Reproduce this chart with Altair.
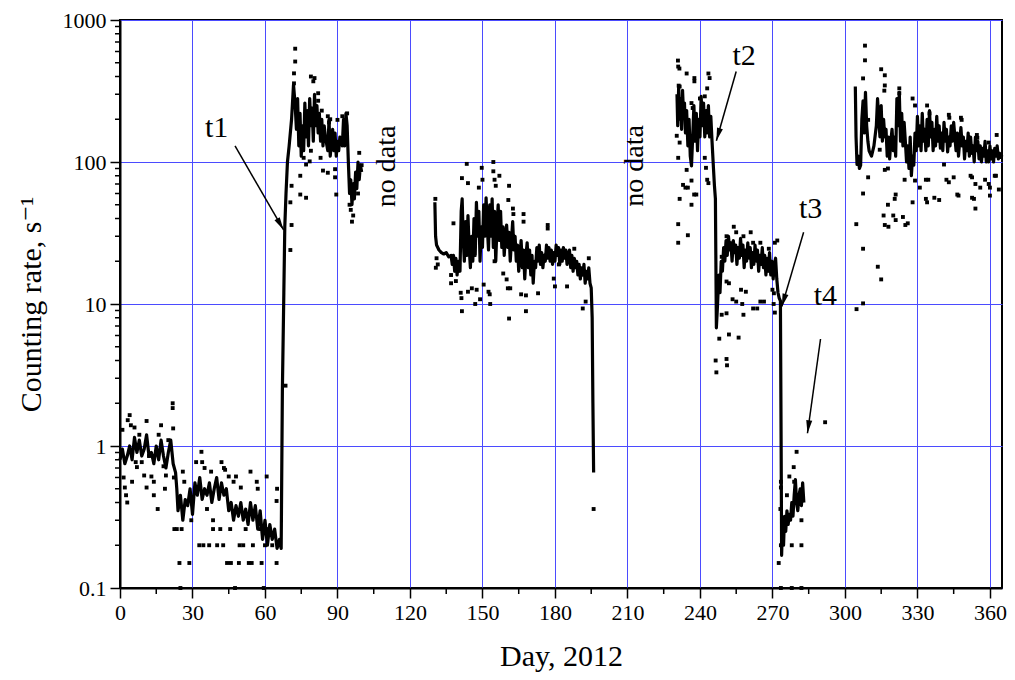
import math
import altair as alt
import pandas as pd

SERIF = "'Liberation Serif', 'Times New Roman', 'DejaVu Serif', serif"
W, H = 882, 568

# ---------------- data: smoothed counting-rate curve (day, rate) ----------------
line_a = [(0,0.8),(1,0.95),(2,0.75),(3,0.85),(4,1.0),(5,0.8),(6,1.15),(7,0.9),(8,1.1),(9,0.85),
          (10,0.95),(11,1.2),(12,0.85),(13,0.9),(14,0.75),(15,1.0),(16,0.8),(17,1.1),(18,0.85),(19,0.7),
          (20,0.9),(21,1.1),(22,0.75),(23,0.65),(23.5,0.5),(24,0.35),(25,0.45),(26,0.3),(27,0.42),(28,0.38),
          (29,0.5),(30,0.33),(31,0.55),(32,0.45),(33,0.6),(34,0.42),(35,0.5),(36,0.45),(37,0.55),(38,0.4),
          (39,0.5),(40,0.6),(41,0.42),(42,0.55),(43,0.45),(44,0.5),(45,0.35),(46,0.4),(47,0.3),(48,0.38),
          (49,0.32),(50,0.4),(51,0.3),(52,0.36),(53,0.28),(54,0.4),(55,0.3),(56,0.38),(57,0.26),(58,0.35),
          (59,0.22),(60,0.3),(61,0.2),(62,0.28),(63,0.22),(64,0.26),(65,0.19),(66,0.22),(66.7,0.19),
          (67.2,2.5),(67.8,12),(68.2,35),(68.7,60),(69.3,100),(70,130),(71,200),(71.8,350),(72.5,250),
          (73,170),(73.5,280),(74,130),(74.5,220),(75,110),(75.5,180),(76,120),(76.5,260),(77,150),
          (77.5,230),(78,130),(78.5,280),(79,180),(79.5,240),(80,140),(80.5,300),(81,180),(81.5,250),
          (82,160),(82.5,220),(83,140),(83.5,200),(84,130),(84.5,180),(85,150),(86,120),(86.5,200),
          (87,110),(88,170),(88.5,120),(89,160),(89.5,110),(90,140),(90.5,120),(91,150),(92,130),
          (92.5,200),(93,130),(93.5,220),(94,180),(94.5,100),(95,60),(95.5,75),(96,50),(96.5,70),
          (97,55),(97.5,85),(98,65),(98.5,100),(99,75),(99.5,95),(100,85)]

line_b = [(130.3,52),(130.6,30),(131,26),(132,24),(133,23),(134,22.5),(135,23),(136,21.5),(137,22),
          (137.5,19),(138,22),(138.5,17),(139,21),(139.5,16),(140,20),(140.7,17),(141.2,45),(141.6,55),
          (142,30),(142.5,20),(143,38),(143.5,22),(144,42),(144.5,25),(145,18),(145.5,30),(146,20),
          (146.5,40),(147,22),(147.5,52),(148,30),(148.5,45),(149,20),(149.5,35),(150,25),(150.5,50),
          (151,30),(151.5,56),(152,35),(152.5,24),(153,50),(153.5,30),(154,55),(154.5,25),(155,45),
          (155.5,20),(156,35),(156.5,50),(157,28),(157.5,45),(158,25),(158.5,35),(159,22),(159.5,30),
          (160,36),(160.5,25),(161,32),(161.5,20),(162,28),(162.5,38),(163,24),(163.5,30),(164,20),
          (164.5,26),(165,17),(165.5,22),(166,28),(166.5,18),(167,24),(167.5,15),(168,22),(168.5,27),
          (169,18),(169.5,24),(170,16),(170.5,22),(171,14),(171.5,20),(172,18),(172.5,25),(173,20),
          (173.5,26),(174,19),(174.5,23),(175,18),(175.5,22),(176,20),(176.5,26),(177,21),(177.5,25),
          (178,20),(178.5,24),(179,19),(179.5,23),(180,20),(180.5,26),(181,22),(181.5,25),(182,19),
          (182.5,24),(183,20),(183.5,25),(184,21),(184.5,24),(185,19),(185.5,22),(186,24),(186.5,18),
          (187,22),(187.5,17),(188,21),(188.5,18),(189,20),(189.5,16),(190,19),(190.5,15),(191,18),
          (191.5,16),(192,19),(192.5,14),(193,17),(193.5,15),(194,18),(194.5,14),(195,13),(195.4,8),
          (195.7,2),(196,0.65)]

line_c = [(230.5,300),(230.8,180),(231.2,340),(231.6,200),(232,280),(232.4,170),(232.8,320),(233.2,220),
          (233.6,260),(234,160),(234.5,230),(235,130),(235.5,200),(236,110),(236.5,94),(237,150),
          (237.5,250),(238,140),(238.5,220),(239,120),(239.5,200),(240,150),(240.5,290),(241,180),
          (241.5,260),(242,150),(242.5,230),(243,160),(243.5,250),(244,150),(244.5,210),(245,140),
          (245.6,90),(246,68),(246.4,55),(246.8,6.8),(247.3,10),(247.8,16),(248.3,12),(248.8,20),
          (249.3,17),(249.8,25),(250.3,20),(250.8,28),(251.3,22),(251.8,30),(252.3,24),(252.8,27),
          (253.3,20),(253.8,28),(254.3,23),(254.8,26),(255.3,19),(255.8,25),(256.3,21),(256.8,29),
          (257.3,22),(257.8,26),(258.3,18),(258.8,24),(259.3,20),(259.8,27),(260.3,21),(260.8,25),
          (261.3,18),(261.8,23),(262.3,19),(262.8,26),(263.3,20),(263.8,24),(264.3,17),(264.8,22),
          (265.3,19),(265.8,25),(266.3,18),(266.8,22),(267.3,16),(267.8,21),(268.3,17),(268.8,23),
          (269.3,16),(269.8,20),(270.3,15),(270.8,19),(271.3,21),(271.8,15),(272.3,12),(272.8,11),
          (273.3,10.5),(273.6,1),(273.8,0.17),(274.2,0.3),(274.6,0.2),(275,0.32),(275.5,0.25),
          (276,0.35),(276.5,0.28),(277,0.33),(277.5,0.3),(278,0.4),(278.5,0.32),(279,0.45),
          (279.5,0.58),(280,0.4),(280.5,0.35),(281,0.45),(281.5,0.5),(282,0.38),(282.5,0.55),(283,0.4)]

line_d = [(304.3,340),(304.6,150),(305,96),(305.5,110),(306,90),(306.5,95),(307,200),(307.5,270),
          (308,160),(308.5,310),(309,180),(309.5,140),(310,120),(311,110),(312,130),(313,180),
          (313.5,280),(314,200),(314.5,150),(315,250),(315.5,140),(316,200),(316.5,150),(317,170),
          (317.5,110),(318,150),(318.5,105),(319,140),(319.5,170),(320,120),(320.5,150),(321,110),
          (321.5,280),(322,180),(322.5,310),(323,140),(323.5,220),(324,130),(324.5,190),(325,140),
          (325.5,100),(326,130),(326.5,90),(327,150),(327.5,80),(328,110),(328.5,95),(329,160),
          (329.5,120),(330,210),(330.5,130),(331,180),(331.5,120),(332,220),(332.5,140),(333,170),
          (333.5,120),(334,200),(334.5,130),(335,230),(335.5,150),(336,190),(336.5,120),(337,170),
          (337.5,130),(338,210),(338.5,140),(339,180),(339.5,125),(340,160),(340.5,120),(341,190),
          (341.5,140),(342,170),(342.5,118),(343,150),(343.5,130),(344,180),(344.5,140),(345,190),
          (345.5,150),(346,120),(346.5,160),(347,110),(347.5,140),(348,175),(348.5,130),(349,150),
          (349.5,105),(350,140),(350.5,120),(351,160),(351.5,110),(352,150),(352.5,115),(353,130),
          (353.5,100),(354,150),(354.5,120),(355,140),(355.5,105),(356,130),(356.5,100),(357,125),
          (357.5,110),(358,140),(358.5,100),(359,120),(359.5,100),(360,130),(360.5,105),(361,120),
          (361.5,100),(362,125),(362.5,110),(363,130),(363.5,105),(364,115),(364.5,108),(365,112)]

# ---------------- data: individual measurements (day, rate) ----------------
dots_a = [(0.5,0.9),(1,1.3),(1.5,0.6),(2,0.51),(2.5,0.45),(3,0.4),(3.2,1.52),(4,1.65),(4.5,1.4),(5,0.56),
          (6,1.35),(6.5,0.77),(7,0.71),(8,1.2),(9,0.77),(10,0.62),(11,1.5),(11,0.51),(12,0.85),(13,0.61),
          (14,0.56),(14,0.45),(15.6,0.36),(16,1.2),(17,1.4),(18,0.72),(18.6,0.5),(19,0.62),(20,1.1),
          (21.8,2.0),(21.8,1.85),(22,1.33),(22.3,0.6),(22.5,0.26),(23.5,0.26),(24.6,0.15),(25,0.1),
          (25.5,0.26),(26.6,0.56),(26,0.66),(28.7,0.15),(29.5,0.3),(31.5,0.77),(32.8,0.2),(33.7,0.91),
          (34,0.77),(34.5,0.2),(35,0.7),(36,0.36),(36.9,0.2),(37.7,0.66),(38.5,0.3),(38.5,0.26),
          (40.2,0.2),(41.5,0.26),(42,0.77),(42.7,0.2),(43,0.7),(43.5,0.68),(44.3,0.15),(45,0.61),
          (45.6,0.26),(45.9,0.15),(47,0.56),(47.6,0.1),(48,0.61),(49.2,0.15),(49.5,0.2),(50,0.51),
          (51,0.2),(52,0.26),(53.3,0.15),(54,0.66),(54.5,0.15),(55,0.2),(56.6,0.56),(57,0.5),(58,0.26),
          (58.6,0.15),(59.5,0.1),(60,0.2),(60.7,0.61),(61,0.26),(63,0.2),(64.8,0.41),(64.8,0.15),
          (65,0.5),(66,0.2),(68.5,2.66),(70.5,24),(71,36),(70.5,52),(71,68),(72.5,628),(72.5,510),
          (72,421),(72,358),(74.6,80),(74.6,59),(75,137),(76,168),(76,107),(77,56),(77,96),(78.5,101),
          (79,120),(79,400),(80,370),(80.5,390),(80,220),(82,305),(82,270),(83,107),(83.5,230),(84,87),
          (86,84),(86,210),(86.5,190),(87,200),(89,89),(89,78),(89.5,59),(90,198),(92,210),(94,220),
          (95,50),(95.5,46),(96.5,42),(96,38),(99,116),(100,95),(97,70),(98.5,60)]

dots_b = [(130.5,55),(130.7,18),(131,21),(131.5,19),(137,16),(137,14),(138,37),(139,14.5),(141,12),
          (141.3,11),(141.5,8.9),(141.5,77),(143.5,97),(144,71),(144,12.2),(145.6,12.9),(147,10),
          (147.6,12.6),(148.5,66),(149,10.8),(149.7,91),(150,75),(150.5,13.7),(152.5,12.2),(153,11.7),
          (153.2,10),(154.5,100),(154.5,86),(155,75),(155.5,68),(155,20),(157,80),(158.6,16.4),
          (160,14.9),(160.5,12.9),(161,68),(161,7.9),(161.5,12.9),(160.7,54),(162.6,47),(162.8,43),
          (166,11.7),(167,43),(167,38),(167,23),(168,8.9),(168,11.5),(173,11.9),(173.5,22),(177,36),
          (177,34),(179.5,15.1),(180,13.3),(181.6,19),(185,13.3),(188,24.5),(191.5,9.3),(192.7,10.4),
          (194,21),(196,0.36)]

dots_c = [(230.4,153),(230.9,518),(231,470),(231.5,455),(231.2,345),(231.6,340),(231.6,137),(231,107),
          (231.6,55),(231,36.5),(231,27),(233,69),(234,66),(234.5,420),(234.5,88),(235,66),(235,30.5),
          (236.5,74),(236.5,50),(236.5,260),(237,240),(237.7,390),(237.7,370),(237.6,59),(238.5,59),
          (240,280),(242,290),(242,107),(242.5,91),(243,75),(243.5,71),(243.5,420),(244,390),(243,330),
          (246.5,4),(246.8,3.3),(248,5.7),(249,21.5),(249,8.4),(251,30),(251,14.4),(251,8.6),(251,4.1),
          (251.2,3.7),(252,14),(252,6.1),(253.5,10.8),(254,35),(255,10.4),(255,32),(256,5.8),(257,12.6),
          (257.5,10),(258,30),(258,8.4),(259,12.2),(261,32),(262,27),(262,9.3),(263.7,9.3),(265,27),
          (265,10.4),(266.5,10.4),(268.5,24.5),(270,12.6),(270.6,11.9),(270.5,10),(271,27),(271,8.7),
          (272,28),(272.6,0.15),(273.5,0.56),(273.5,0.51),(273.3,0.36),(273.5,0.2),(273.5,0.1),
          (276,0.45),(277,0.61),(278,0.2),(278,0.1),(278.8,0.71),(279,0.56),(280,0.91),(282,0.41),
          (282,0.3),(282,0.2),(282,0.1),(291.8,1.47)]

dots_d = [(304.7,36.5),(304.8,9.2),(307.5,24.5),(307.5,10.1),(307.5,60),(307.5,388),(308.3,660),
          (308.3,520),(309.6,198),(309.6,78),(313.6,18.3),(314.4,122),(315,14.9),(315,450),(316.5,408),
          (316.5,346),(316.3,318),(316.5,88),(316,42),(316.5,36),(317.8,90),(317.8,50),(318,35),(320,42),
          (320.6,55),(321,59),(321,39),(322.5,330),(322.5,305),(324,41),(324.7,75),(325,36),(326,37),
          (328,280),(328,52),(329,250),(329,74),(331,66),(333.5,55),(333.5,75),(334,52),(334,250),
          (334.5,75),(335,220),(337,56),(339,54),(341,96),(342,75),(343,72),(343,215),(343.2,205),
          (345,78),(346.5,59),(347,58),(348,205),(348.3,198),(352,80),(352.6,78),(352.6,56),(353.4,55),
          (354,70),(354,47),(354.6,155),(354.8,148),(356,66),(358,75),(359.5,70),(359.5,137),(360,66),
          (360,58),(362,80),(362.5,80),(362.8,155),(363.7,64)]

# ---------------- annotations ----------------
t_labels = ["t1", "t2", "t3", "t4"]
t_label_day = [40, 258.3, 285.8, 291.9]
t_label_val = [174, 561, 46.5, 11.3]
arrow_from_day = [47.6, 255, 282.9, 289.9]
arrow_from_val = [130, 434, 32, 5.67]
arrow_to_day = [67.7, 246.8, 273.9, 284.5]
arrow_to_val = [33.2, 141, 9.6, 1.23]
nodata_day = [110.7, 213]
nodata_val = [93, 94]

x_major = list(range(0, 361, 30))
x_minor = list(range(15, 365, 30))
y_major = [0.1, 1, 10, 100, 1000]
y_minor = [d * k for d in (0.1, 1, 10, 100) for k in range(2, 10)]

# ---------------- frames ----------------
line_df = pd.DataFrame(
    [(d, v, s) for s, seg in enumerate([line_a, line_b, line_c, line_d]) for d, v in seg],
    columns=["day", "val", "seg"])
dots_df = pd.DataFrame(dots_a + dots_b + dots_c + dots_d, columns=["day", "val"])

def px(d):
    return d / 365 * W

def py(v):
    return H * (3 - math.log10(v)) / 4

angles = [(math.degrees(math.atan2(px(x2) - px(x1), -(py(y2) - py(y1))))) % 360
          for x1, y1, x2, y2 in zip(arrow_from_day, arrow_from_val, arrow_to_day, arrow_to_val)]
arrow_df = pd.DataFrame({"day": arrow_from_day, "val": arrow_from_val,
                         "day2": arrow_to_day, "val2": arrow_to_val, "ang": angles})
label_df = pd.DataFrame({"day": t_label_day, "val": t_label_val, "txt": t_labels})
nodata_df = pd.DataFrame({"day": nodata_day, "val": nodata_val, "txt": ["no data"] * 2})
yminor_df = pd.DataFrame({"val": y_minor})
xminor_df = pd.DataFrame({"day": x_minor})

xscale = alt.Scale(domain=[0, 365], nice=False, zero=False)
yscale = alt.Scale(type="log", domain=[0.1, 1000], nice=False)
xaxis = alt.Axis(values=x_major, title="Day, 2012", grid=True, gridColor="#4b4bff", gridWidth=1,
                 tickSize=10, tickWidth=1.5, tickColor="black", domainColor="black", domainWidth=2,
                 labelFont=SERIF, labelFontSize=22, labelColor="black", labelPadding=4,
                 titleFont=SERIF, titleFontSize=30, titleFontWeight="normal", titleColor="black",
                 titlePadding=18, labelFlush=False)
yaxis = alt.Axis(values=y_major, format="~g", title="Counting rate, s\u207b\u00b9", grid=True,
                 gridColor="#4b4bff", gridWidth=1, tickSize=10, tickWidth=1.5, tickColor="black",
                 domainColor="black", domainWidth=2, labelFont=SERIF, labelFontSize=22,
                 labelColor="black", labelPadding=4, titleFont=SERIF, titleFontSize=30,
                 titleFontWeight="normal", titleColor="black", titlePadding=16, labelFlush=False)

def X(f="day"):
    return alt.X(f"{f}:Q", scale=xscale, axis=xaxis)

def Y(f="val"):
    return alt.Y(f"{f}:Q", scale=yscale, axis=yaxis)

line = alt.Chart(line_df).mark_line(color="black", strokeWidth=3.2, strokeJoin="round").encode(
    x=X(), y=Y(), detail="seg:N", order="day:Q")
dots = alt.Chart(dots_df).mark_square(color="black", size=15, opacity=1).encode(x=X(), y=Y())
yminor = alt.Chart(yminor_df).mark_rule(color="black", strokeWidth=1.5).encode(
    y=Y(), x=alt.value(0), x2=alt.value(-5))
xminor = alt.Chart(xminor_df).mark_rule(color="black", strokeWidth=1.5).encode(
    x=X(), y=alt.value(H), y2=alt.value(H + 6))
arrows = alt.Chart(arrow_df).mark_rule(color="black", strokeWidth=1.5).encode(
    x=X(), y=Y(), x2="day2:Q", y2="val2:Q")
heads = alt.Chart(arrow_df).mark_point(shape="M0,0L-0.35,1.5L0.35,1.5Z", filled=True, size=300,
                                       color="black", opacity=1, strokeWidth=0).encode(
    x=X("day2"), y=Y("val2"), angle=alt.Angle("ang:Q", scale=None))
labels = alt.Chart(label_df).mark_text(font=SERIF, fontSize=30, color="black", align="center",
                                       baseline="middle").encode(x=X(), y=Y(), text="txt:N")
nodata = alt.Chart(nodata_df).mark_text(font=SERIF, fontSize=28, color="black", align="center",
                                        baseline="middle", angle=270).encode(x=X(), y=Y(), text="txt:N")

chart = alt.layer(line, dots, yminor, xminor, arrows, heads, labels, nodata).properties(
    width=W, height=H,
    padding={"left": 112, "top": 12, "right": 5, "bottom": 84},
    autosize=alt.AutoSizeParams(type="none"),
    background="white",
).configure_view(stroke="black", strokeWidth=2)

chart.save("out.html", embed_options={"renderer": "svg", "actions": False})
